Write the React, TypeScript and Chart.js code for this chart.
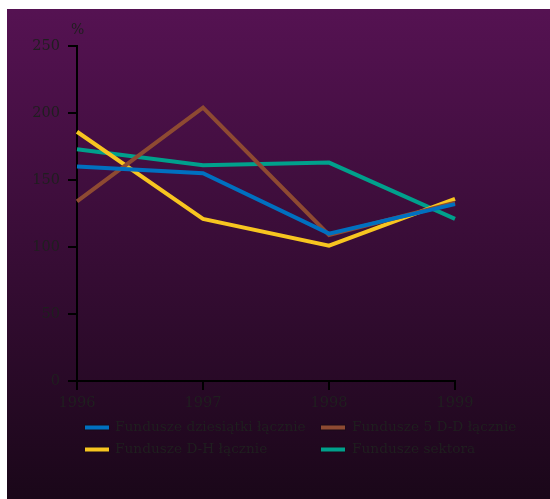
import React, { useEffect, useRef } from "react";
import { Chart, registerables } from "chart.js";

Chart.register(...registerables);

const years = ["1996", "1997", "1998", "1999"];
const dziesiatki = [160, 155, 110, 132];
const dd5 = [134, 204, 109, 133];
const dh = [186, 121, 101, 136];
const sektora = [173, 161, 163, 121];
const seriesNames = [
  "Fundusze dziesiątki łącznie",
  "Fundusze 5 D-D łącznie",
  "Fundusze D-H łącznie",
  "Fundusze sektora",
];
const seriesColors = ["#0070c0", "#8e4a32", "#f7c520", "#00a08c"];

const FONT = "'DejaVu Serif', serif";
const TEXT = "#1f1f1f";

const bgPlugin = {
  id: "bg",
  beforeDraw(chart: any) {
    const { ctx, width, height } = chart;
    const g = ctx.createLinearGradient(0, 0, 0, height);
    g.addColorStop(0, "#551252");
    g.addColorStop(1, "#1a0719");
    ctx.save();
    ctx.fillStyle = g;
    ctx.fillRect(0, 0, width, height);
    ctx.restore();
  },
  afterDraw(chart: any) {
    const { ctx, chartArea } = chart;
    ctx.save();
    ctx.fillStyle = TEXT;
    ctx.font = `14px ${FONT}`;
    ctx.textAlign = "left";
    ctx.textBaseline = "middle";
    ctx.fillText("%", chartArea.left - 6, 21);
    // legend
    ctx.font = `13.7px ${FONT}`;
    const cols = [78, 314];
    const rows = [418.5, 440.5];
    chart.data.datasets.forEach((ds: any, i: number) => {
      const x = cols[i % 2];
      const y = rows[Math.floor(i / 2)];
      ctx.fillStyle = "#1a0a18";
      ctx.fillRect(x - 0.5, y - 3, 25, 6);
      ctx.fillStyle = ds.borderColor;
      ctx.fillRect(x, y - 2, 24, 4);
      ctx.fillStyle = TEXT;
      ctx.fillText(ds.label, x + (i % 2 === 0 ? 30 : 31), y);
    });
    ctx.restore();
  },
};

export default function App() {
  const ref = useRef<HTMLCanvasElement>(null);
  useEffect(() => {
    const datasets = [dziesiatki, dd5, dh, sektora].map((d, i) => ({
      label: seriesNames[i],
      data: d,
      borderColor: seriesColors[i],
      backgroundColor: seriesColors[i],
      borderWidth: 4,
      pointRadius: 0,
      tension: 0,
      fill: false,
    }));
    const chart = new Chart(ref.current!, {
      type: "line",
      data: { labels: years, datasets },
      plugins: [bgPlugin],
      options: {
        animation: false,
        responsive: false,
        layout: { padding: { top: 37, right: 95, left: 0, bottom: 0 } },
        plugins: { legend: { display: false }, tooltip: { enabled: false } },
        scales: {
          x: {
            type: "category",
            offset: false,
            afterFit: (s: any) => {
              s.height = 118;
            },
            grid: {
              drawOnChartArea: false,
              drawTicks: true,
              tickLength: 9,
              color: "#000",
              lineWidth: 2,
            },
            border: { display: true, color: "#000", width: 2 },
            ticks: {
              color: TEXT,
              font: { family: FONT, size: 14.5 },
              padding: 5,
              maxRotation: 0,
            },
          },
          y: {
            min: 0,
            max: 250,
            afterFit: (s: any) => {
              s.width = 70;
            },
            grid: {
              drawOnChartArea: false,
              drawTicks: true,
              tickLength: 9,
              color: "#000",
              lineWidth: 2,
            },
            border: { display: true, color: "#000", width: 2 },
            ticks: {
              stepSize: 50,
              color: TEXT,
              font: { family: FONT, size: 14.5 },
              padding: 8,
            },
          },
        },
      },
    });
    return () => chart.destroy();
  }, []);
  return (
    <div style={{ position: "absolute", left: 7, top: 9, width: 543, height: 490 }}>
      <canvas ref={ref} width={543} height={490} style={{ display: "block" }} />
    </div>
  );
}
